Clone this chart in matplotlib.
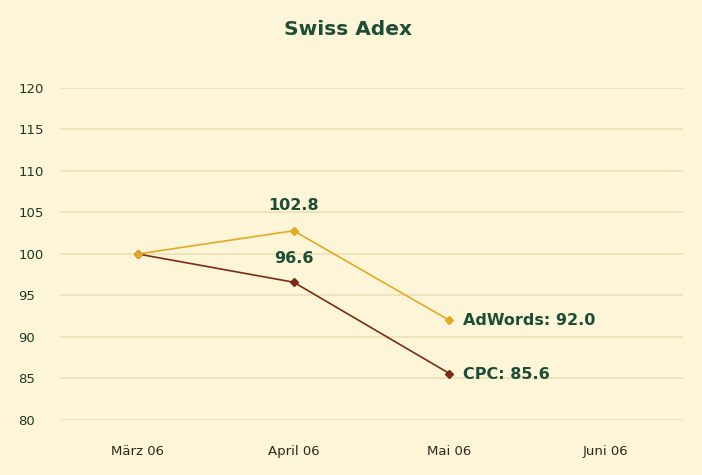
import matplotlib.pyplot as plt

# data
months = ["März 06", "April 06", "Mai 06", "Juni 06"]
adwords = [100.0, 102.8, 92.0]
cpc = [100.0, 96.6, 85.6]
y_ticks = [80, 85, 90, 95, 100, 105, 110, 115, 120]

bg = "#fdf5d8"
green = "#1d4d35"
gold = "#e2aa22"
brown = "#7a2c14"

fig = plt.figure(figsize=(7.02, 4.75), dpi=100, facecolor=bg)
ax = fig.add_axes([0.0855, 0.1158, 0.8875, 0.699])
ax.set_facecolor(bg)

x_ad = list(range(len(adwords)))
x_cpc = list(range(len(cpc)))

# CPC first so the gold marker sits on top at März
ax.plot(x_cpc, cpc, color=brown, lw=1.2, marker="D", ms=4, zorder=3)
ax.plot(x_ad, adwords, color=gold, lw=1.2, marker="D", ms=4, zorder=3)

# value labels
font = dict(color=green, fontweight="bold", fontsize=11.5, family="DejaVu Sans")
ax.annotate(f"{adwords[1]:.1f}", (x_ad[1], adwords[1]), xytext=(0, 13),
            textcoords="offset points", ha="center", va="bottom", **font)
ax.annotate(f"{cpc[1]:.1f}", (x_cpc[1], cpc[1]), xytext=(0, 12),
            textcoords="offset points", ha="center", va="bottom", **font)
ax.annotate(f"AdWords: {adwords[2]:.1f}", (x_ad[2], adwords[2]), xytext=(10, 0),
            textcoords="offset points", ha="left", va="center", **font)
ax.annotate(f"CPC: {cpc[2]:.1f}", (x_cpc[2], cpc[2]), xytext=(10, -1),
            textcoords="offset points", ha="left", va="center", **font)

ax.set_xlim(-0.5, len(months) - 0.5)
ax.set_ylim(80, 120)
ax.set_xticks(range(len(months)))
ax.set_xticklabels(months, fontsize=9.5, color="#2a2a1a")
ax.set_yticks(y_ticks)
ax.set_yticklabels([str(t) for t in y_ticks], fontsize=9.5, color="#1d3a25")
ax.tick_params(length=0)
ax.tick_params(axis="y", pad=30)
ax.tick_params(axis="x", pad=18)
for lbl in ax.get_yticklabels():
    lbl.set_horizontalalignment("left")

ax.grid(axis="y", color="#ede0b8", lw=1.2)
ax.set_axisbelow(True)
for s in ax.spines.values():
    s.set_visible(False)

fig.text(0.496, 0.937, "Swiss Adex", ha="center", va="center",
         color=green, fontsize=14.5, fontweight="bold")

fig.savefig("out.png", dpi=100, facecolor=bg)
